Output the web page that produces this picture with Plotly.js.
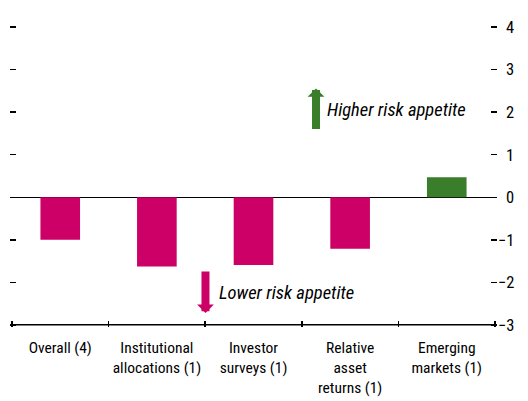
<!DOCTYPE html>
<html>
<head>
<meta charset="utf-8">
<script src="https://cdn.plot.ly/plotly-3.0.1.min.js"></script>
<style>html,body{margin:0;padding:0;background:#fff;}#chart{width:528px;height:401px;}</style>
</head>
<body>
<div id="chart"></div>
<script>
const categories = ["Overall (4)", "Institutional<br>allocations (1)", "Investor<br>surveys (1)", "Relative<br>asset<br>returns (1)", "Emerging<br>markets (1)"];
const values = [-1.0, -1.63, -1.59, -1.21, 0.47];
const tickValues = [-3, -2, -1, 0, 1, 2, 3, 4];
const tickLabels = ["\u22123", "\u22122", "\u22121", "\u20070", "\u20071", "\u20072", "\u20073", "\u20074"];
const upColor = "#3a7d2b";
const downColor = "#cc0066";
const barColors = values.map(v => v >= 0 ? upColor : downColor);
const FONT = "'Liberation Sans Narrow', 'Roboto Condensed', 'DejaVu Sans Condensed', sans-serif";

const trace = {
  type: "bar",
  x: categories,
  y: values,
  marker: {color: barColors, line: {width: 0}},
  width: 0.41,
  hoverinfo: "skip"
};

const layout = {
  width: 528, height: 401,
  margin: {l: 10.07, r: 31.07, t: 24.875, b: 74.375},
  paper_bgcolor: "#fff", plot_bgcolor: "#fff",
  showlegend: false,
  font: {family: FONT, size: 16, color: "#000"},
  xaxis: {
    type: "category",
    range: [-0.52, 4.52],
    showline: false,
    ticks: "inside", tickson: "boundaries", ticklen: 6, tickwidth: 1.5, tickcolor: "#000",
    showgrid: false, zeroline: false,
    tickangle: 0,
    tickfont: {family: FONT, size: 15.5, color: "#000"},
    ticklabelstandoff: 9,
    fixedrange: true
  },
  yaxis: {
    side: "right",
    range: [-3.05, 4.05],
    tickmode: "array", tickvals: tickValues, ticktext: tickLabels,
    ticks: "inside", ticklen: 6, tickwidth: 1.5, tickcolor: "#000",
    mirror: "ticks", showline: false,
    showgrid: false,
    zeroline: true, zerolinecolor: "#000", zerolinewidth: 1.5,
    tickfont: {family: FONT, size: 16.5, color: "#000"},
    ticklabelstandoff: 0,
    fixedrange: true
  },
  shapes: [
    {type: "line", xref: "x", yref: "y", x0: -0.5, x1: 4.5, y0: -3, y1: -3,
     line: {color: "#000", width: 1.5}, layer: "above"}
  ],
  annotations: [
    {xref: "x", yref: "y", x: 2.647, y: 2.56, text: "", showarrow: true,
     axref: "pixel", ayref: "pixel", ax: 0, ay: 42,
     arrowhead: 1, arrowsize: 0.35, arrowwidth: 8, arrowcolor: upColor, standoff: 0},
    {xref: "x", yref: "y", x: 2.74, y: 2.05, xanchor: "left", yanchor: "middle",
     text: "<i>Higher risk appetite</i>", showarrow: false,
     font: {family: FONT, size: 18.5, color: "#000"}},
    {xref: "x", yref: "y", x: 1.503, y: -2.72, text: "", showarrow: true,
     axref: "pixel", ayref: "pixel", ax: 0, ay: -43,
     arrowhead: 1, arrowsize: 0.35, arrowwidth: 8, arrowcolor: downColor, standoff: 0},
    {xref: "x", yref: "y", x: 1.62, y: -2.24, xanchor: "left", yanchor: "middle",
     text: "<i>Lower risk appetite</i>", showarrow: false,
     font: {family: FONT, size: 18.5, color: "#000"}}
  ]
};

Plotly.newPlot("chart", [trace], layout, {staticPlot: true, displayModeBar: false});
</script>
</body>
</html>
